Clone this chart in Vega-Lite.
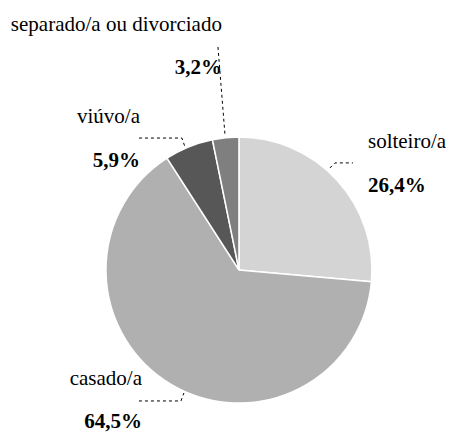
{
  "$schema": "https://vega.github.io/schema/vega-lite/v6.json",
  "width": 452,
  "height": 437,
  "autosize": {"type": "fit", "contains": "padding"},
  "padding": 0,
  "background": "white",
  "config": {"view": {"stroke": null}},
  "datasets": {
    "fatias": [
      {"estado": "solteiro/a", "pct": 26.4, "ordem": 1},
      {"estado": "casado/a", "pct": 64.5, "ordem": 2},
      {"estado": "viúvo/a", "pct": 5.9, "ordem": 3},
      {"estado": "separado/a ou divorciado", "pct": 3.2, "ordem": 4}
    ],
    "rotulos": [
      {"estado": "solteiro/a", "rotulo": "26,4%", "u": 0.97, "vn": 0.917, "vp": 0.586},
      {"estado": "casado/a", "rotulo": "64,5%", "u": -0.729, "vn": -0.865, "vp": -1.188},
      {"estado": "viúvo/a", "rotulo": "5,9%", "u": -0.744, "vn": 1.105, "vp": 0.774},
      {"estado": "separado/a ou divorciado", "rotulo": "3,2%", "u": -0.128, "vn": 1.797, "vp": 1.474}
    ],
    "guias": [
      {"g": "separado", "i": 1, "u": -0.158, "v": 1.677},
      {"g": "separado", "i": 2, "u": -0.105, "v": 1.015},
      {"g": "viuvo", "i": 1, "u": -0.752, "v": 0.992},
      {"g": "viuvo", "i": 2, "u": -0.429, "v": 0.992},
      {"g": "viuvo", "i": 3, "u": -0.406, "v": 0.925},
      {"g": "solteiro", "i": 1, "u": 0.684, "v": 0.767},
      {"g": "solteiro", "i": 2, "u": 0.722, "v": 0.805},
      {"g": "solteiro", "i": 3, "u": 0.857, "v": 0.805},
      {"g": "casado", "i": 1, "u": -0.752, "v": -0.985},
      {"g": "casado", "i": 2, "u": -0.436, "v": -0.985},
      {"g": "casado", "i": 3, "u": -0.414, "v": -0.925}
    ]
  },
  "layer": [
    {
      "data": {"name": "fatias"},
      "mark": {"type": "arc", "outerRadius": 133, "stroke": "white", "strokeWidth": 1.5},
      "encoding": {
        "x": {"datum": 0, "type": "quantitative", "scale": {"domain": [-1.797, 1.602], "nice": false, "zero": false}, "axis": null},
        "y": {"datum": 0, "type": "quantitative", "scale": {"domain": [-1.256, 2.03], "nice": false, "zero": false}, "axis": null},
        "theta": {"field": "pct", "type": "quantitative", "stack": true},
        "order": {"field": "ordem", "type": "quantitative"},
        "color": {
          "field": "estado", "type": "nominal", "legend": null,
          "scale": {
            "domain": ["solteiro/a", "casado/a", "viúvo/a", "separado/a ou divorciado"],
            "range": ["#d4d4d4", "#b0b0b0", "#575757", "#7f7f7f"]
          }
        }
      }
    },
    {
      "data": {"name": "guias"},
      "mark": {"type": "line", "color": "black", "strokeWidth": 1, "strokeDash": [3, 3]},
      "encoding": {
        "x": {"field": "u", "type": "quantitative", "axis": null},
        "y": {"field": "v", "type": "quantitative", "axis": null},
        "detail": {"field": "g"},
        "order": {"field": "i", "type": "quantitative"}
      }
    },
    {
      "data": {"name": "rotulos"},
      "mark": {"type": "text", "font": "Liberation Serif", "fontSize": 21, "color": "black", "baseline": "alphabetic", "align": {"expr": "datum.u > 0 ? 'left' : 'right'"}},
      "encoding": {
        "x": {"field": "u", "type": "quantitative", "axis": null},
        "y": {"field": "vn", "type": "quantitative", "axis": null},
        "text": {"field": "estado"}
      }
    },
    {
      "data": {"name": "rotulos"},
      "mark": {"type": "text", "font": "Liberation Serif", "fontSize": 21, "fontWeight": "bold", "color": "black", "baseline": "alphabetic", "align": {"expr": "datum.u > 0 ? 'left' : 'right'"}},
      "encoding": {
        "x": {"field": "u", "type": "quantitative", "axis": null},
        "y": {"field": "vp", "type": "quantitative", "axis": null},
        "text": {"field": "rotulo"}
      }
    }
  ]
}
